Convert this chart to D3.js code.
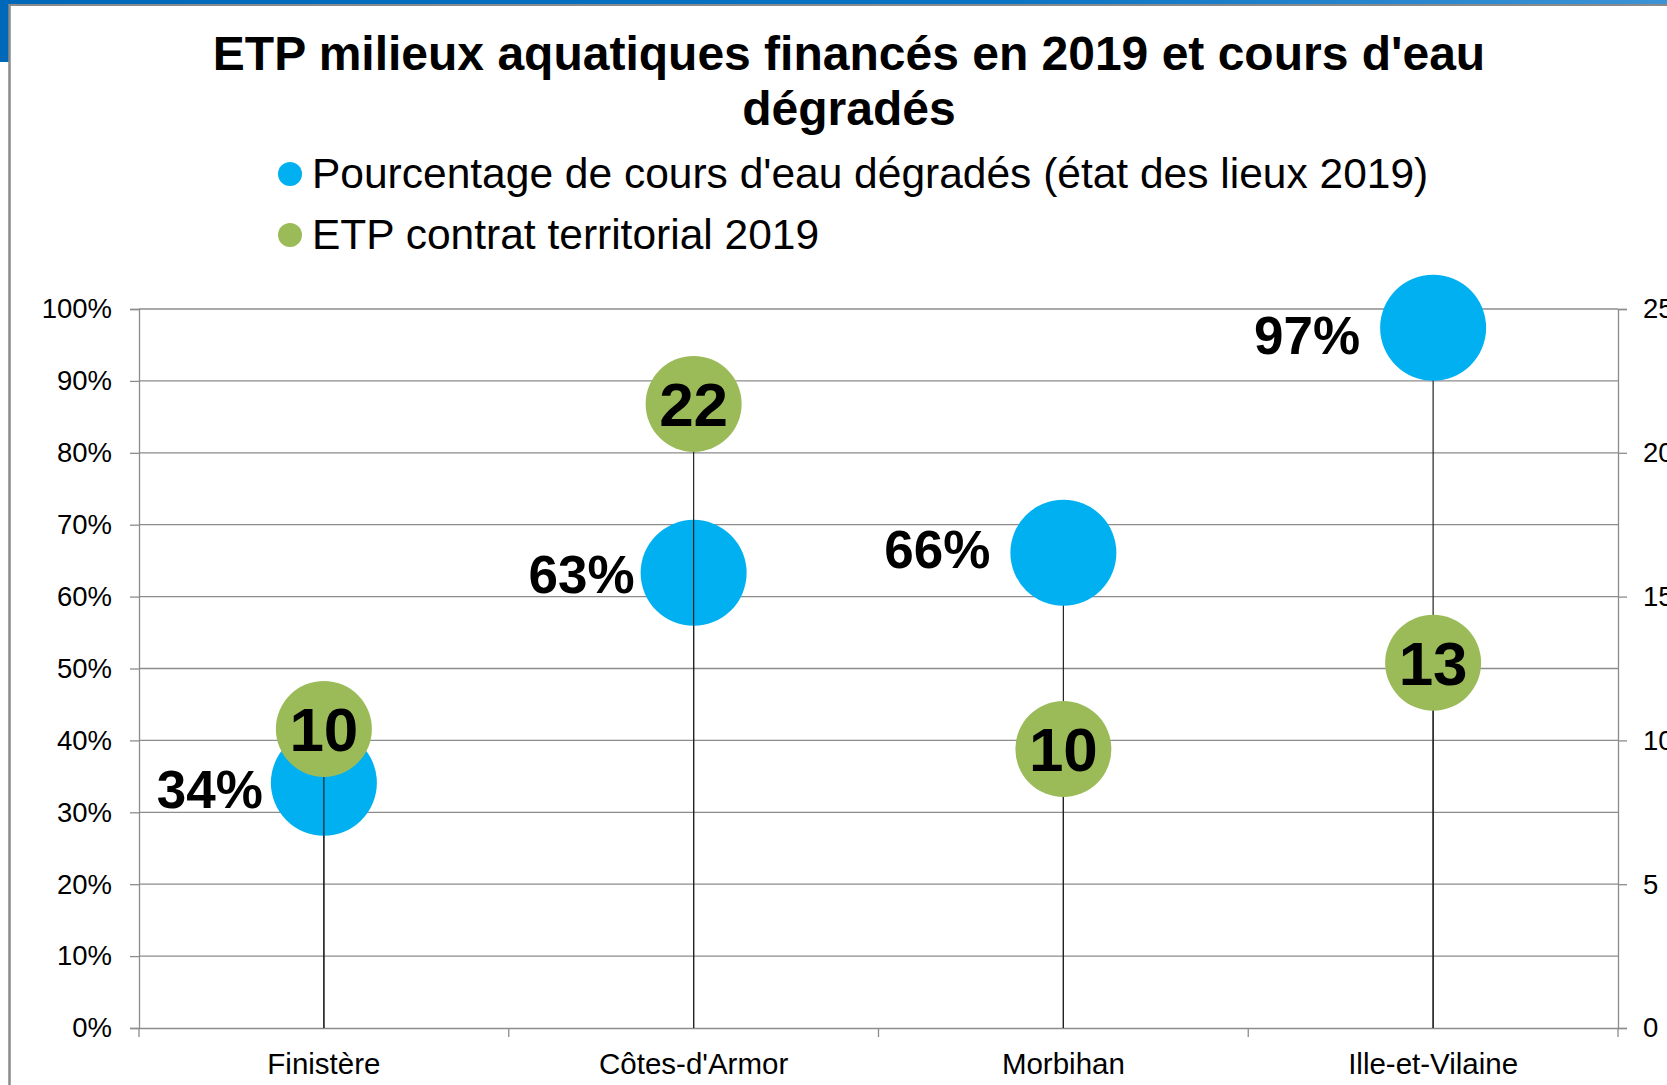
<!DOCTYPE html>
<html>
<head>
<meta charset="utf-8">
<script src="https://cdn.jsdelivr.net/npm/d3@7"></script>
<style>
  html, body { margin: 0; padding: 0; background: #fff; overflow: hidden; }
  svg { display: block; font-family: "Liberation Sans", Arial, sans-serif; }
</style>
</head>
<body>
<div id="visualization"></div>
<script>
// Données
const departements = ["Finistère", "Côtes-d'Armor", "Morbihan", "Ille-et-Vilaine"];
const pctDegrades = [0.341, 0.633, 0.661, 0.974];
const etpContrat = [10.4, 21.7, 9.7, 12.7];
const ticksGauche = [0, 0.1, 0.2, 0.3, 0.4, 0.5, 0.6, 0.7, 0.8, 0.9, 1];
const ticksDroite = [0, 5, 10, 15, 20, 25];
const titre = ["ETP milieux aquatiques financés en 2019 et cours d'eau", "dégradés"];
const legende = ["Pourcentage de cours d'eau dégradés (état des lieux 2019)", "ETP contrat territorial 2019"];

const width = 1667;
const height = 1085;
const margin = { top: 309, right: 49, bottom: 57, left: 139 };
const bleu = "#00b0f0";
const vert = "#9bbb59";
const gris = "#8c8c8c";

// Décalages manuels des étiquettes en % (déplacées à la main dans l'original)
const decalEtiquettes = [[-8, 6], [-6, 1], [-20, -4], [-20, 7]];

const svg = d3.select("#visualization")
    .append("svg")
    .attr("width", width)
    .attr("height", height);

// Cadre de la fenêtre (bande bleue + bordure grise)
const grad = svg.append("defs").append("linearGradient")
    .attr("id", "bandeau").attr("x1", "0").attr("x2", "1");
grad.append("stop").attr("offset", "0").attr("stop-color", "#0068b8");
grad.append("stop").attr("offset", "0.6").attr("stop-color", "#0a74c4");
grad.append("stop").attr("offset", "1").attr("stop-color", "#3c93d6");
svg.append("rect").attr("x", 0).attr("y", 0).attr("width", width).attr("height", 5).attr("fill", "url(#bandeau)");
svg.append("rect").attr("x", 0).attr("y", 0).attr("width", 9).attr("height", 62).attr("fill", "#0068b8");
svg.append("line").attr("x1", 9).attr("x2", width).attr("y1", 5).attr("y2", 5)
    .attr("stroke", "#8a8a8a").attr("stroke-width", 2);
svg.append("line").attr("x1", 9.5).attr("x2", 9.5).attr("y1", 4).attr("y2", height)
    .attr("stroke", "#8a8a8a").attr("stroke-width", 2.5);

// Échelles
const x = d3.scaleBand()
    .domain(departements)
    .range([margin.left, width - margin.right])
    .padding(0);

const yPct = d3.scaleLinear()
    .domain([0, 1])
    .range([height - margin.bottom, margin.top]);

const yEtp = d3.scaleLinear()
    .domain([0, 25])
    .range([height - margin.bottom, margin.top]);

const cx = d => x(d) + x.bandwidth() / 2;
const y0 = height - margin.bottom;

// Quadrillage
svg.append("g")
    .selectAll("line")
    .data(ticksGauche.slice(1))
    .enter()
    .append("line")
    .attr("x1", margin.left)
    .attr("x2", width - margin.right)
    .attr("y1", d => yPct(d))
    .attr("y2", d => yPct(d))
    .attr("stroke", gris)
    .attr("stroke-width", 1.3);

// Axe gauche
const axeG = svg.append("g")
    .attr("transform", `translate(${margin.left},0)`)
    .call(d3.axisLeft(yPct).tickValues(ticksGauche).tickFormat(d3.format(".0%")).tickSize(9).tickPadding(18));
axeG.selectAll("line, path").attr("stroke", gris).attr("stroke-width", 1.3);
axeG.selectAll("text").style("font-size", "27.5px").attr("fill", "#000").style("font-family", "Liberation Sans, Arial, sans-serif");

// Axe droit
const axeD = svg.append("g")
    .attr("transform", `translate(${width - margin.right},0)`)
    .call(d3.axisRight(yEtp).tickValues(ticksDroite).tickSize(9).tickPadding(16));
axeD.selectAll("line, path").attr("stroke", gris).attr("stroke-width", 1.3);
axeD.selectAll("text").style("font-size", "27.5px").attr("fill", "#000").style("font-family", "Liberation Sans, Arial, sans-serif");

// Axe X
const axeX = svg.append("g")
    .attr("transform", `translate(0,${y0})`)
    .call(d3.axisBottom(x).tickSize(0).tickPadding(25));
axeX.select("path").attr("stroke", gris).attr("stroke-width", 1.3);
axeX.selectAll("text").style("font-size", "29.5px").attr("fill", "#000").style("font-family", "Liberation Sans, Arial, sans-serif");
// Graduations entre catégories
svg.append("g")
    .selectAll("line")
    .data(departements.concat(["fin"]))
    .enter()
    .append("line")
    .attr("x1", (d, i) => i < departements.length ? x(d) : x.range()[1])
    .attr("x2", (d, i) => i < departements.length ? x(d) : x.range()[1])
    .attr("y1", y0)
    .attr("y2", y0 + 9)
    .attr("stroke", gris)
    .attr("stroke-width", 1.3);

// Lignes de projection + bulles bleues
svg.append("g")
    .selectAll("line")
    .data(departements)
    .enter()
    .append("line")
    .attr("x1", d => cx(d))
    .attr("x2", d => cx(d))
    .attr("y1", (d, i) => yPct(pctDegrades[i]))
    .attr("y2", y0)
    .attr("stroke", "#222")
    .attr("stroke-width", 1.2);

svg.append("g")
    .selectAll("circle")
    .data(departements)
    .enter()
    .append("circle")
    .attr("cx", d => cx(d))
    .attr("cy", (d, i) => yPct(pctDegrades[i]))
    .attr("r", 53)
    .attr("fill", bleu);

// Lignes de projection + bulles vertes
svg.append("g")
    .selectAll("line")
    .data(departements)
    .enter()
    .append("line")
    .attr("x1", d => cx(d))
    .attr("x2", d => cx(d))
    .attr("y1", (d, i) => yEtp(etpContrat[i]))
    .attr("y2", y0)
    .attr("stroke", "#222")
    .attr("stroke-width", 1.2);

svg.append("g")
    .selectAll("circle")
    .data(departements)
    .enter()
    .append("circle")
    .attr("cx", d => cx(d))
    .attr("cy", (d, i) => yEtp(etpContrat[i]))
    .attr("r", 48)
    .attr("fill", vert);

// Étiquettes de valeurs
svg.append("g")
    .selectAll("text")
    .data(departements)
    .enter()
    .append("text")
    .attr("x", (d, i) => cx(d) - 53 + decalEtiquettes[i][0])
    .attr("y", (d, i) => yPct(pctDegrades[i]) + decalEtiquettes[i][1])
    .attr("dy", "0.36em")
    .attr("text-anchor", "end")
    .attr("font-weight", "bold")
    .style("font-size", "53px")
    .text((d, i) => Math.round(pctDegrades[i] * 100) + "%");

svg.append("g")
    .selectAll("text")
    .data(departements)
    .enter()
    .append("text")
    .attr("x", d => cx(d))
    .attr("y", (d, i) => yEtp(etpContrat[i]))
    .attr("dy", "0.36em")
    .attr("text-anchor", "middle")
    .attr("font-weight", "bold")
    .style("font-size", "62px")
    .text((d, i) => Math.round(etpContrat[i]));

// Titre
svg.append("g")
    .selectAll("text")
    .data(titre)
    .enter()
    .append("text")
    .attr("x", 849)
    .attr("y", (d, i) => 70 + i * 55)
    .attr("text-anchor", "middle")
    .attr("font-weight", "bold")
    .style("font-size", "48px")
    .text(d => d);

// Légende
const leg = svg.append("g")
    .selectAll("g")
    .data(legende)
    .enter()
    .append("g")
    .attr("transform", (d, i) => `translate(290,${188 + i * 61})`);
leg.append("circle")
    .attr("cx", 0)
    .attr("cy", -14)
    .attr("r", 12)
    .attr("fill", (d, i) => i === 0 ? bleu : vert);
leg.append("text")
    .attr("x", 22)
    .attr("y", 0)
    .style("font-size", "42.5px")
    .text(d => d);
</script>
</body>
</html>
